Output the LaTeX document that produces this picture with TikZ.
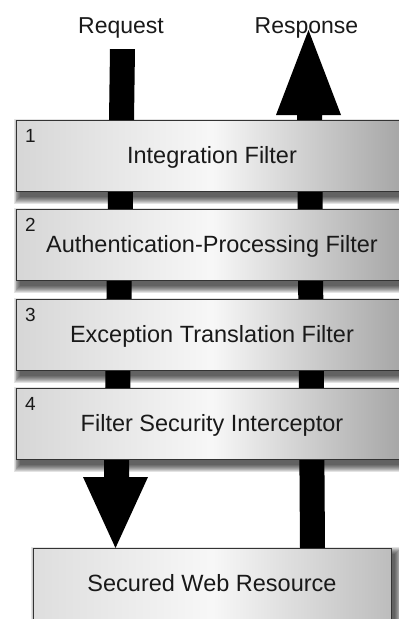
\documentclass[tikz,border=0pt]{standalone}
\usepackage{fontspec}
\setmainfont{Liberation Sans}
\newcommand\softshadow[4]{%
  \foreach \k in {0,1,...,7}{%
    \fill[black, opacity=0.11]
      ({#1+4-\k*0.9}, {#2+6-\k*1.0}) rectangle ({#3+4+\k*0.9}, {#4+6+\k*1.0});
  }}
\begin{document}
\begin{tikzpicture}[x=1pt, y=-1pt,
  filterbox/.style={draw=black!80, line width=0.9pt,
    left color=black!16, right color=black!36, middle color=black!3,
    minimum width=392pt, minimum height=71pt, inner sep=0pt},
  resourcebox/.style={draw=black!80, line width=0.9pt,
    left color=black!13, right color=black!26, middle color=black!3,
    minimum width=358pt, minimum height=71pt, inner sep=0pt},
  boxtext/.style={anchor=base, font=\fontsize{23.5}{28}\selectfont, text=black!90},
  numtext/.style={anchor=base west, font=\fontsize{19}{22}\selectfont, text=black!90},
  headtext/.style={anchor=base, font=\fontsize{23}{28}\selectfont, text=black!90},
  blockarrow/.style={fill=black}]
\useasboundingbox (0,0) rectangle (399,619);
\fill[white] (0,0) rectangle (399,619);
\clip (0,0) rectangle (399,619);

% headings
\node[headtext] (req) at (121,33) {Request};
\node[headtext] (resp) at (306.5,33) {Response};

% request flow: downward block arrow
\coordinate (reqtip) at (115.5,548);
\fill[blockarrow] (110,49) -- (135,49) -- (129,477) -- (148,477)
  -- (reqtip) -- (83,477) -- (104,477) -- cycle;

% response flow: upward block arrow
\coordinate (resptip) at (308.5,30);
\fill[blockarrow] (300,548) -- (325,548) -- (322,115) -- (341,115)
  -- (resptip) -- (276,115) -- (297,115) -- cycle;

% shadows under the boxes
\softshadow{16}{120}{408}{191}
\softshadow{16}{209}{408}{280}
\softshadow{16}{299}{408}{370}
\softshadow{16}{388}{408}{459}
\softshadow{33}{548}{391}{619}

% filter chain
\node[filterbox] (f1) at (212,155.5) {};
\node[filterbox] (f2) at (212,244.5) {};
\node[filterbox] (f3) at (212,334.5) {};
\node[filterbox] (f4) at (212,423.5) {};
\node[resourcebox] (res) at (212,583.5) {};

\node[numtext] (n1) at ([xshift=6pt, yshift=-23pt]f1.north west) {1};
\node[numtext] (n2) at ([xshift=6pt, yshift=-23pt]f2.north west) {2};
\node[numtext] (n3) at ([xshift=6pt, yshift=-23pt]f3.north west) {3};
\node[numtext] (n4) at ([xshift=6pt, yshift=-23pt]f4.north west) {4};

\node[boxtext] (t1) at ([yshift=-43.5pt]f1.north) {Integration Filter};
\node[boxtext] (t2) at ([yshift=-43.5pt]f2.north) {Authentication-Processing Filter};
\node[boxtext] (t3) at ([yshift=-43.5pt]f3.north) {Exception Translation Filter};
\node[boxtext] (t4) at ([yshift=-43.5pt]f4.north) {Filter Security Interceptor};
\node[boxtext] (t5) at ([yshift=-44pt]res.north) {Secured Web Resource};
\end{tikzpicture}
\end{document}
